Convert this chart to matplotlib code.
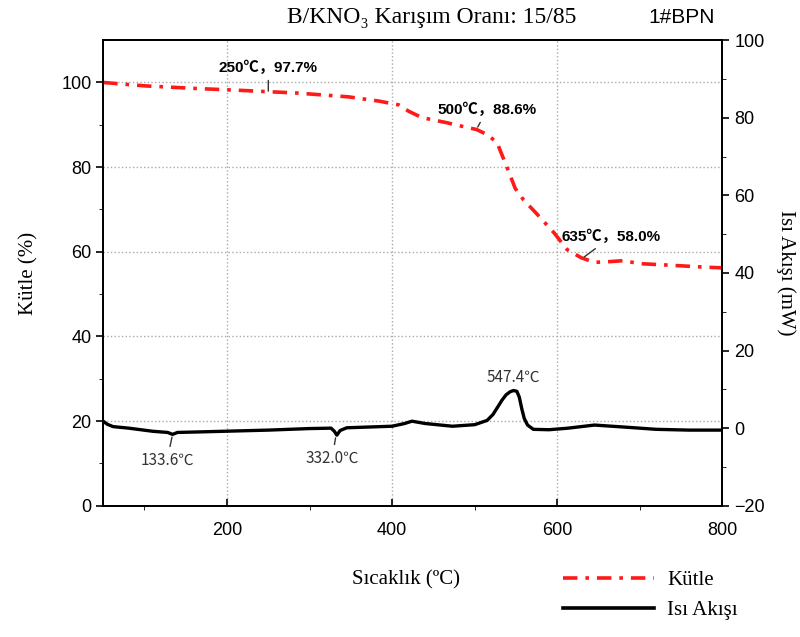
import matplotlib.pyplot as plt
from matplotlib.lines import Line2D

# mass loss curve (left axis, %)
mass_t = [50, 100, 160, 220, 285, 347, 384, 408, 420, 436, 466, 490, 502, 515,
          527, 539, 549, 559, 575, 596, 612, 629, 645, 665, 680, 700, 730, 776, 800]
mass_v = [100, 99.2, 98.6, 98.1, 97.5, 96.6, 95.6, 94.7, 93.2, 91.7, 90.5, 89.4,
          88.9, 87.7, 85.8, 80.0, 75.0, 72.3, 69.0, 64.5, 60.5, 58.6, 57.5, 57.7,
          57.9, 57.2, 56.9, 56.4, 56.2]

# heat flow curve (right axis, mW)
heat_t = [50, 55, 62, 81, 110, 128, 134, 140, 160, 196, 250, 300, 326, 330, 333,
          337, 345, 400, 415, 424, 440, 473, 500, 515, 522, 528, 533, 538, 543,
          547, 551, 554, 557, 560, 564, 571, 590, 613, 645, 680, 720, 760, 800]
heat_v = [1.8, 1.0, 0.4, 0.0, -0.8, -1.1, -1.6, -1.1, -1.0, -0.8, -0.5, -0.1,
          0.0, -0.8, -1.8, -0.6, 0.1, 0.5, 1.2, 1.8, 1.2, 0.5, 0.9, 2.0, 3.5, 5.5,
          7.2, 8.6, 9.4, 9.7, 9.5, 8.0, 5.0, 2.5, 0.8, -0.3, -0.4, 0.0, 0.8, 0.3,
          -0.3, -0.5, -0.5]

serif = ['Liberation Serif', 'DejaVu Serif']
sans = ['Liberation Sans', 'Noto Sans CJK SC', 'DejaVu Sans']

fig = plt.figure(figsize=(8, 6.37), dpi=100)
ax = fig.add_axes([0.129, 0.206, 0.774, 0.731])
ax2 = ax.twinx()

ax.plot(mass_t, mass_v, color='#ff1a1a', lw=2.6, ls=(0, (4, 2.2, 1, 2.2)))
ax2.plot(heat_t, heat_v, color='black', lw=2.4)

ax.set_xlim(50, 800)
ax.set_ylim(0, 110)
ax2.set_ylim(-20, 100)
ax.set_xticks([200, 400, 600, 800])
ax.set_xticks([100, 300, 500, 700], minor=True)
ax.set_yticks([0, 20, 40, 60, 80, 100])
ax.set_yticks([10, 30, 50, 70, 90], minor=True)
ax2.set_yticks([-20, 0, 20, 40, 60, 80, 100])
ax2.set_yticks([-10, 10, 30, 50, 70, 90], minor=True)

ax.grid(True, which='major', ls=':', color='#aaaaaa', lw=1)
for a in (ax, ax2):
    a.tick_params(labelsize=13, length=5, width=1.2)
    a.tick_params(which='minor', length=3)
    for s in a.spines.values():
        s.set_linewidth(1.3)
ax.tick_params(axis='x', direction='in', pad=12)
for lab in ax.get_xticklabels() + ax.get_yticklabels() + ax2.get_yticklabels():
    lab.set_family(sans)

ax.set_ylabel('Kütle (%)', family=serif, fontsize=15, labelpad=16)
ax2.set_ylabel('Isı Akışı (mW)', family=serif, fontsize=15, rotation=-90, labelpad=22)

# mass annotations
bold = dict(fontsize=11, fontweight='bold', family=sans)
ax.annotate('250℃，97.7%', xy=(250, 97.3), xytext=(190, 102.5), **bold,
            arrowprops=dict(arrowstyle='-', color='#333333', lw=1))
ax.annotate('500℃，88.6%', xy=(502, 88.9), xytext=(455, 92.5), **bold,
            arrowprops=dict(arrowstyle='-', color='#333333', lw=1))
ax.annotate('635℃，58.0%', xy=(630, 58.4), xytext=(605, 62.5), **bold,
            arrowprops=dict(arrowstyle='-', color='#333333', lw=1))

# heat flow annotations
norm = dict(fontsize=11, family=['Noto Sans CJK SC', 'DejaVu Sans'], color='#333333')
ax2.annotate('133.6℃', xy=(134, -1.6), xytext=(95, -9.5), **norm,
             arrowprops=dict(arrowstyle='-', color='#333333', lw=1))
ax2.annotate('332.0℃', xy=(332, -1.8), xytext=(295, -9.0), **norm,
             arrowprops=dict(arrowstyle='-', color='#333333', lw=1))
ax2.text(547, 11, '547.4℃', ha='center', va='bottom', **norm)

# title
fig.text(0.72, 0.972, 'B/KNO₃ Karışım Oranı: 15/85', ha='right', va='center',
         family=serif, fontsize=17)
fig.text(0.81, 0.972, '1#BPN', ha='left', va='center', family=sans, fontsize=15)

fig.text(0.44, 0.09, 'Sıcaklık (ºC)', ha='left', va='center', family=serif, fontsize=15)

handles = [Line2D([], [], color='#ff1a1a', lw=2.6, ls=(0, (4, 2.2, 1, 2.2))),
           Line2D([], [], color='black', lw=2.6)]
fig.legend(handles, ['Kütle', 'Isı Akışı'], loc='center left',
           bbox_to_anchor=(0.68, 0.065), frameon=False, handlelength=4.4,
           handletextpad=0.6, prop={'family': serif, 'size': 15}, labelspacing=0.5)

fig.savefig('out.png', dpi=100)
